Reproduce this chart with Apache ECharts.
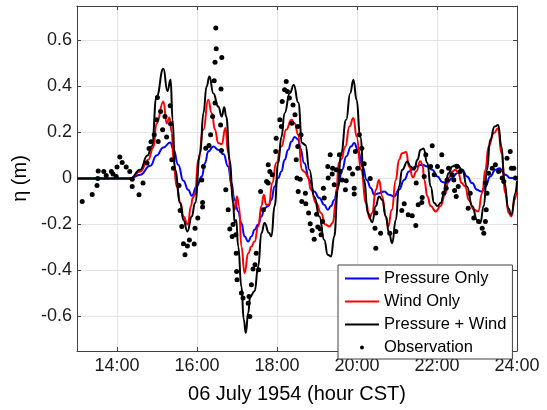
<!DOCTYPE html>
<html>
<head>
<meta charset="utf-8">
<script src="https://cdn.jsdelivr.net/npm/echarts@6/dist/echarts.min.js"></script>
<style>
html, body { margin: 0; padding: 0; background: #fff; }
#chart_eta { width: 547px; height: 410px; }
</style>
</head>
<body>
<div id="chart_eta"></div>
<script>
var myChart = echarts.init(document.getElementById('chart_eta'));

// tick labels
var hourTicks = [14, 16, 18, 20, 22, 24];
var etaTicks = [-0.6, -0.4, -0.2, 0, 0.2, 0.4, 0.6];

// Pressure Only (hour, eta in m)
var pressureT = [13, 14.33, 14.58, 14.83, 14.99, 15.16, 15.33, 15.41, 15.53, 15.66, 15.78, 15.87, 15.99, 16.12, 16.2, 16.28, 16.41, 16.53, 16.66, 16.78, 16.86, 16.94, 17.03, 17.11, 17.19, 17.28, 17.36, 17.44, 17.53, 17.61, 17.69, 17.78, 17.86, 17.94, 18.03, 18.11, 18.19, 18.28, 18.36, 18.44, 18.53, 18.58, 18.68, 18.81, 18.93, 19.06, 19.18, 19.27, 19.35, 19.43, 19.52, 19.63, 19.73, 19.85, 19.93, 20.02, 20.14, 20.24, 20.35, 20.43, 20.55, 20.68, 20.8, 20.93, 21.05, 21.18, 21.3, 21.47, 21.63, 21.76, 21.88, 22.01, 22.13, 22.25, 22.38, 22.5, 22.63, 22.75, 22.88, 23, 23.11, 23.21, 23.33, 23.46, 23.56, 23.71, 23.83, 24];
var pressureV = [0, 0, 0.016, 0.055, 0.1, 0.135, 0.156, 0.128, 0.06, -0.01, -0.049, -0.075, -0.035, 0.009, 0.067, 0.117, 0.139, 0.125, 0.106, 0.052, -0.02, -0.093, -0.143, -0.194, -0.252, -0.274, -0.252, -0.223, -0.2, -0.165, -0.129, -0.12, -0.093, -0.035, 0.002, 0.03, 0.081, 0.125, 0.161, 0.18, 0.17, 0.132, 0.067, -0.006, -0.057, -0.085, -0.114, -0.136, -0.12, -0.093, -0.035, 0.038, 0.096, 0.139, 0.154, 0.125, 0.052, -0.006, -0.042, -0.071, -0.064, -0.057, -0.071, -0.078, -0.049, -0.006, 0.03, 0.052, 0.06, 0.052, 0.038, 0.009, -0.015, -0.02, 0.002, 0.023, 0.038, 0.009, -0.02, -0.049, -0.057, -0.035, 0.009, 0.038, 0.045, 0.016, 0.002, 0.002];

// Wind Only
var windT = [13, 14.33, 14.58, 14.78, 14.91, 14.99, 15.16, 15.24, 15.31, 15.37, 15.41, 15.49, 15.59, 15.66, 15.77, 15.85, 15.89, 15.95, 16.03, 16.16, 16.28, 16.37, 16.45, 16.53, 16.62, 16.71, 16.78, 16.86, 16.94, 17, 17.05, 17.11, 17.19, 17.28, 17.36, 17.44, 17.53, 17.61, 17.67, 17.73, 17.8, 17.88, 17.98, 18.11, 18.23, 18.36, 18.44, 18.53, 18.62, 18.68, 18.77, 18.85, 18.98, 19.1, 19.21, 19.31, 19.39, 19.48, 19.54, 19.6, 19.71, 19.81, 19.91, 19.99, 20.1, 20.23, 20.31, 20.38, 20.47, 20.55, 20.63, 20.72, 20.78, 20.87, 20.97, 21.05, 21.13, 21.23, 21.3, 21.4, 21.48, 21.58, 21.64, 21.68, 21.76, 21.84, 21.97, 22.09, 22.21, 22.29, 22.38, 22.46, 22.54, 22.61, 22.71, 22.79, 22.92, 23.03, 23.13, 23.21, 23.29, 23.42, 23.53, 23.61, 23.71, 23.79, 23.86, 23.94, 24];
var windV = [0, 0, 0.03, 0.081, 0.135, 0.24, 0.335, 0.24, 0.265, 0.2, 0.081, -0.035, -0.107, -0.165, -0.2, -0.12, -0.085, -0.071, 0.081, 0.212, 0.342, 0.284, 0.212, 0.154, 0.15, 0.22, 0.11, -0.035, -0.136, -0.078, -0.12, -0.296, -0.412, -0.325, -0.296, -0.274, -0.209, -0.12, -0.071, -0.114, -0.114, -0.02, 0.067, 0.139, 0.212, 0.255, 0.24, 0.19, 0.038, 0.03, 0.009, -0.049, -0.107, -0.15, -0.2, -0.209, -0.194, -0.093, 0.067, 0.081, 0.139, 0.226, 0.263, 0.183, 0.038, -0.107, -0.172, -0.15, -0.049, -0.006, -0.078, -0.165, -0.209, -0.136, -0.006, 0.081, 0.11, 0.115, 0.052, 0.005, 0.03, 0.075, 0.06, -0.006, -0.078, -0.12, -0.143, -0.12, -0.064, 0.002, 0.03, 0.038, 0.023, -0.02, -0.035, -0.093, -0.136, -0.143, -0.064, 0.038, 0.139, 0.197, 0.219, 0.11, -0.064, -0.15, -0.165, -0.093, -0.035];

// Pressure + Wind
var bothT = [13, 14.33, 14.58, 14.76, 14.87, 14.99, 15.16, 15.26, 15.34, 15.39, 15.45, 15.58, 15.66, 15.76, 15.87, 15.95, 16.08, 16.16, 16.24, 16.31, 16.41, 16.53, 16.62, 16.68, 16.73, 16.82, 16.9, 16.94, 16.98, 17.03, 17.11, 17.17, 17.22, 17.28, 17.33, 17.44, 17.53, 17.61, 17.69, 17.8, 17.86, 17.94, 18.03, 18.11, 18.19, 18.32, 18.42, 18.53, 18.63, 18.71, 18.81, 18.93, 19.06, 19.18, 19.27, 19.35, 19.43, 19.52, 19.6, 19.73, 19.83, 19.91, 19.99, 20.08, 20.18, 20.27, 20.38, 20.47, 20.55, 20.63, 20.72, 20.8, 20.88, 20.97, 21.05, 21.13, 21.26, 21.34, 21.43, 21.51, 21.59, 21.66, 21.76, 21.84, 21.93, 22.01, 22.09, 22.18, 22.21, 22.29, 22.38, 22.5, 22.63, 22.75, 22.88, 23, 23.08, 23.17, 23.25, 23.33, 23.44, 23.53, 23.61, 23.69, 23.78, 23.86, 23.96, 24];
var bothV = [0, 0, 0.038, 0.1, 0.14, 0.357, 0.477, 0.38, 0.43, 0.255, 0.038, -0.106, -0.18, -0.23, -0.165, -0.106, 0.11, 0.285, 0.4, 0.443, 0.37, 0.313, 0.27, 0.31, 0.27, 0.08, -0.106, -0.19, -0.18, -0.296, -0.47, -0.614, -0.672, -0.584, -0.513, -0.49, -0.383, -0.237, -0.194, -0.237, -0.252, -0.12, 0.067, 0.18, 0.284, 0.371, 0.407, 0.33, 0.154, 0.146, 0.038, -0.078, -0.165, -0.267, -0.332, -0.339, -0.252, -0.049, 0.11, 0.255, 0.371, 0.429, 0.342, 0.18, -0.006, -0.15, -0.19, -0.12, -0.078, -0.093, -0.165, -0.237, -0.281, -0.18, -0.035, 0.038, 0.074, 0.052, 0.038, 0.081, 0.125, 0.13, 0.067, -0.035, -0.107, -0.12, -0.107, -0.064, -0.02, 0.023, 0.052, 0.06, 0.038, -0.035, -0.12, -0.18, -0.194, -0.12, 0.038, 0.168, 0.226, 0.233, 0.139, -0.02, -0.129, -0.158, -0.064, -0.01];

// Observation
var obsT = [13.13, 13.38, 13.5, 13.52, 13.53, 13.67, 13.73, 13.86, 13.9, 13.98, 14, 14.07, 14.13, 14.23, 14.32, 14.38, 14.38, 14.55, 14.65, 14.75, 14.8, 14.85, 14.93, 14.99, 15.01, 15.03, 15.09, 15.14, 15.2, 15.24, 15.33, 15.34, 15.37, 15.41, 15.55, 15.58, 15.62, 15.66, 15.7, 15.76, 15.81, 15.93, 15.95, 16.02, 16.12, 16.14, 16.14, 16.16, 16.22, 16.3, 16.34, 16.39, 16.43, 16.45, 16.47, 16.48, 16.45, 16.59, 16.6, 16.62, 16.61, 16.72, 16.78, 16.82, 16.88, 16.9, 16.97, 16.98, 16.99, 17, 17.11, 17.15, 17.28, 17.3, 17.32, 17.36, 17.4, 17.45, 17.48, 17.54, 17.59, 17.66, 17.74, 17.78, 17.78, 17.82, 17.88, 17.97, 17.98, 18.07, 18.11, 18.13, 18.19, 18.23, 18.26, 18.31, 18.37, 18.4, 18.45, 18.48, 18.5, 18.52, 18.52, 18.53, 18.58, 18.6, 18.62, 18.71, 18.72, 18.79, 18.83, 18.88, 18.93, 18.99, 19.02, 19.08, 19.1, 19.14, 19.18, 19.16, 19.27, 19.28, 19.33, 19.38, 19.39, 19.43, 19.48, 19.56, 19.58, 19.63, 19.71, 19.73, 19.81, 19.89, 19.93, 19.93, 19.96, 20.02, 20.06, 20.12, 20.18, 20.33, 20.47, 20.45, 20.47, 20.59, 20.82, 20.97, 21.12, 21.18, 21.28, 21.38, 21.47, 21.48, 21.53, 21.62, 21.63, 21.68, 21.72, 21.84, 21.88, 21.93, 22.01, 22.12, 22.12, 22.17, 22.23, 22.25, 22.29, 22.38, 22.42, 22.44, 22.48, 22.5, 22.53, 22.58, 22.78, 22.83, 22.92, 23.04, 23.13, 23.17, 23.21, 23.23, 23.21, 23.25, 23.29, 23.38, 23.46, 23.54, 23.63, 23.67, 23.75, 23.83, 23.86, 23.92, 23.96];
var obsV = [-0.1, -0.07, -0.03, 0, 0.033, 0.03, 0.013, 0.03, 0.02, 0.009, 0.05, 0.093, 0.07, 0.05, 0.03, -0.003, -0.035, -0.071, -0.02, 0.067, 0.13, 0.16, 0.19, 0.255, 0.352, 0.161, 0.291, 0.212, 0.27, 0.18, 0.316, 0.238, 0.081, 0.045, -0.03, -0.139, -0.209, -0.284, -0.332, -0.293, -0.267, -0.285, -0.216, -0.172, -0.006, -0.104, -0.124, 0.052, 0.132, 0.143, 0.19, 0.27, 0.425, 0.505, 0.654, 0.564, 0.328, 0.233, 0.389, 0.526, 0.122, -0.049, -0.136, -0.22, -0.252, -0.2, -0.245, -0.325, -0.404, -0.44, -0.498, -0.52, -0.542, -0.513, -0.6, -0.462, -0.394, -0.375, -0.325, -0.397, -0.057, -0.136, -0.013, 0.06, -0.02, 0.03, 0.016, 0.117, 0.175, 0.255, 0.226, 0.335, 0.386, 0.422, 0.378, 0.35, 0.24, 0.32, 0.277, 0.081, 0.002, 0.139, 0.226, -0.057, -0.003, 0.19, -0.1, -0.064, -0.11, -0.15, -0.197, -0.226, -0.264, -0.155, -0.211, -0.22, -0.245, -0.187, -0.085, -0.042, 0.052, 0.002, 0.103, 0.02, 0.045, -0.027, 0.038, 0.103, 0.03, -0.006, -0.049, -0.01, 0.045, 0.02, -0.042, -0.067, 0.117, 0.045, 0.19, 0.132, 0.064, 0, -0.15, -0.216, -0.303, -0.238, -0.238, -0.23, -0.139, -0.11, -0.158, -0.162, -0.204, -0.02, -0.114, -0.104, -0.083, 0.009, 0.103, 0.052, 0.142, 0.016, 0.052, 0.103, 0.03, -0.064, -0.042, -0.006, 0.045, 0.016, -0.006, -0.052, -0.078, 0.052, -0.035, 0.03, -0.129, -0.064, -0.172, -0.187, -0.216, -0.238, -0.187, -0.136, -0.02, -0.064, 0.023, 0.045, 0.06, 0.03, 0.002, -0.013, 0.088, 0.117, 0.045, 0.045, 0.002];

function zip(t, v) {
	var out = [];
	for (var i = 0; i < t.length; i++) {
		out.push([t[i], v[i]]);
	}
	return out;
}

var fontFam = '"Liberation Sans", Arial, sans-serif';
var axisColor = '#404040';
var gridColor = '#e3e3e3';
// legend icons: invisible corner points keep the 34x14 box, so the mark keeps its size
var lineIcon = 'path://M0,0L0.01,0M34,14L34.01,14M0,6L34,6L34,8L0,8Z';
var dotIcon = 'path://M0,0L0.01,0M34,14L34.01,14M15,7A2,2,0,1,0,19,7A2,2,0,1,0,15,7Z';

function frameAxis(pos, min, max, ticks) {
	return {
		type: 'value',
		min: min,
		max: max,
		position: pos,
		axisLine: { show: true, onZero: false, lineStyle: { color: axisColor, width: 1 } },
		axisTick: { show: true, inside: true, length: 4, customValues: ticks, lineStyle: { color: axisColor } },
		axisLabel: { show: false },
		splitLine: { show: false }
	};
}

function curve(name, t, v, color, z) {
	return {
		name: name,
		type: 'line',
		data: zip(t, v),
		showSymbol: false,
		symbol: 'none',
		smooth: 0.5,
		smoothMonotone: 'x',
		lineStyle: { color: color, width: 2 },
		itemStyle: { color: color },
		z: z
	};
}

var option = {
	animation: false,
	backgroundColor: '#fff',
	grid: {
		left: 77,
		right: 30,
		top: 6,
		bottom: 59
	},
	legend: {
		orient: 'vertical',
		left: 338,
		top: 265,
		itemWidth: 34,
		itemHeight: 14,
		itemGap: 6,
		padding: [5, 6, 3, 7],
		backgroundColor: '#fff',
		borderColor: axisColor,
		borderWidth: 1,
		borderRadius: 0,
		textStyle: {
			fontFamily: fontFam,
			fontSize: 16.5,
			color: '#000'
		},
		data: [
			{ name: 'Pressure Only', icon: lineIcon },
			{ name: 'Wind Only', icon: lineIcon },
			{ name: 'Pressure + Wind', icon: lineIcon },
			{ name: 'Observation', icon: dotIcon }
		]
	},
	xAxis: [{
		type: 'value',
		min: 13,
		max: 24,
		position: 'bottom',
		name: '06 July 1954 (hour CST)',
		nameLocation: 'middle',
		nameGap: 33,
		nameTextStyle: {
			fontFamily: fontFam,
			fontSize: 20,
			color: '#000'
		},
		axisLine: { show: true, onZero: false, lineStyle: { color: axisColor, width: 1 } },
		axisTick: { show: true, inside: true, length: 4, customValues: hourTicks, lineStyle: { color: axisColor } },
		axisLabel: {
			customValues: hourTicks,
			margin: 6,
			fontFamily: fontFam,
			fontSize: 18,
			color: '#1a1a1a',
			formatter: function(v) {
				return v + ':00';
			}
		},
		splitLine: { show: true, lineStyle: { color: gridColor, width: 1 } }
	}, frameAxis('top', 13, 24, hourTicks)],
	yAxis: [{
		type: 'value',
		min: -0.75,
		max: 0.75,
		position: 'left',
		name: 'η (m)',
		nameLocation: 'middle',
		nameGap: 45,
		nameTextStyle: {
			fontFamily: fontFam,
			fontSize: 20,
			color: '#000'
		},
		axisLine: { show: true, onZero: false, lineStyle: { color: axisColor, width: 1 } },
		axisTick: { show: true, inside: true, length: 4, customValues: etaTicks, lineStyle: { color: axisColor } },
		axisLabel: {
			customValues: etaTicks,
			margin: 5,
			fontFamily: fontFam,
			fontSize: 18,
			color: '#1a1a1a',
			formatter: function(v) {
				return v === 0 ? '0' : v.toFixed(1);
			}
		},
		splitLine: { show: true, lineStyle: { color: gridColor, width: 1 } }
	}, frameAxis('right', -0.75, 0.75, etaTicks)],
	series: [
		curve('Pressure Only', pressureT, pressureV, '#0000ff', 2),
		curve('Wind Only', windT, windV, '#ff0000', 3),
		curve('Pressure + Wind', bothT, bothV, '#000000', 4),
		{
			name: 'Observation',
			type: 'scatter',
			data: zip(obsT, obsV),
			symbol: 'circle',
			symbolSize: 5,
			itemStyle: { color: '#000000', opacity: 1 },
			z: 5
		}
	]
};

myChart.setOption(option);
</script>
</body>
</html>
